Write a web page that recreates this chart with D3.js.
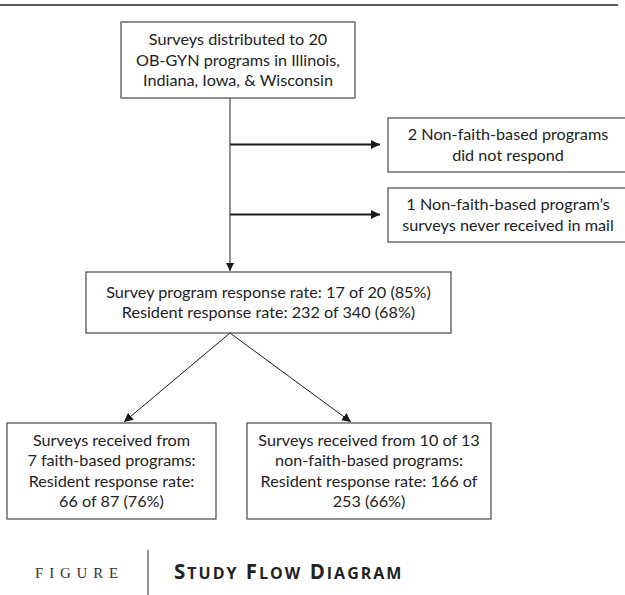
<!DOCTYPE html>
<html lang="en">
  <head>
    <meta charset="utf-8">
    <title>Study Flow Diagram</title>
    <script src="https://d3js.org/d3.v7.min.js"></script>
    <style>
      body { margin: 0; background: #fff; }
      .box text { font-family: Lato, "Open Sans", sans-serif; font-size: 16.2px; fill: #222; }
    </style>
  </head>
  <body>
    <script>
      // text of each box, one entry per line
      var startLines = ["Surveys distributed to 20", "OB-GYN programs in Illinois,", "Indiana, Iowa, & Wisconsin"];
      var excludedLines = [
        ["2 Non-faith-based programs", "did not respond"],
        ["1 Non-faith-based program\u2019s", "surveys never received in mail"]
      ];
      var responseLines = ["Survey program response rate: 17 of 20 (85%)", "Resident response rate: 232 of 340 (68%)"];
      var groupLines = [
        ["Surveys received from", "7 faith-based programs:", "Resident response rate:", "66 of 87 (76%)"],
        ["Surveys received from 10 of 13", "non-faith-based programs:", "Resident response rate: 166 of", "253 (66%)"]
      ];
      var captionLabel = "FIGURE";
      var captionWords = ["Study", "Flow", "Diagram"];

      var w = 625, h = 595;
      var lineH = 20.5;

      // layout: box rectangles [x0, y0, x1, y1]
      var layout = {
        start: [121, 22, 355, 98],
        excluded: [[388, 118, 628, 172], [388, 188, 628, 242]],
        response: [86, 272, 451, 333],
        groups: [[7, 423, 216, 519], [247, 423, 491, 519]],
        spineX: 230,
        diagTips: [124, 351]
      };

      var svg = d3.select("body").append("svg")
          .attr("width", w)
          .attr("height", h);

      var defs = svg.append("defs");
      function marker(id, mw, mh) {
        defs.append("marker")
            .attr("id", id)
            .attr("markerUnits", "userSpaceOnUse")
            .attr("viewBox", "0 0 10 10")
            .attr("refX", 10).attr("refY", 5)
            .attr("markerWidth", mw).attr("markerHeight", mh)
            .attr("orient", "auto")
          .append("path")
            .attr("d", "M0,0L10,5L0,10Z")
            .attr("fill", "#1a1a1a");
      }
      marker("head", 9, 9);
      marker("headSmall", 8, 8);

      // top rule
      svg.append("line")
          .attr("x1", 0).attr("x2", 618)
          .attr("y1", 5).attr("y2", 5)
          .attr("stroke", "#222").attr("stroke-width", 1.5);

      function drawBox(rect, lines) {
        var g = svg.append("g").attr("class", "box");
        g.append("rect")
            .attr("x", rect[0]).attr("y", rect[1])
            .attr("width", rect[2] - rect[0]).attr("height", rect[3] - rect[1])
            .attr("fill", "#fff")
            .attr("stroke", "#555").attr("stroke-width", 1.3);
        var cx = (rect[0] + rect[2]) / 2;
        var cy = (rect[1] + rect[3]) / 2;
        var first = cy - (lines.length - 1) * lineH / 2;
        g.selectAll("text")
          .data(lines)
          .enter().append("text")
            .attr("x", cx)
            .attr("y", function(d, i) { return first + i * lineH; })
            .attr("dy", "0.35em")
            .attr("text-anchor", "middle")
            .text(function(d) { return d; });
      }

      function arrow(x1, y1, x2, y2, sw, col, head) {
        svg.append("line")
            .attr("x1", x1).attr("y1", y1)
            .attr("x2", x2).attr("y2", y2)
            .attr("stroke", col)
            .attr("stroke-width", sw)
            .attr("marker-end", "url(#" + head + ")");
      }

      var s = layout.start, r = layout.response;
      arrow(layout.spineX, s[3], layout.spineX, r[1] - 1, 1.3, "#555", "headSmall");
      layout.excluded.forEach(function(b) {
        var y = Math.round((b[1] + b[3]) / 2) - 0.5;
        arrow(layout.spineX, y, b[0] - 8, y, 2, "#1a1a1a", "head");
      });
      layout.groups.forEach(function(b, i) {
        arrow(layout.spineX, r[3], layout.diagTips[i], b[1] - 1, 1, "#1a1a1a", "head");
      });

      drawBox(s, startLines);
      layout.excluded.forEach(function(b, i) { drawBox(b, excludedLines[i]); });
      drawBox(r, responseLines);
      layout.groups.forEach(function(b, i) { drawBox(b, groupLines[i]); });

      // caption
      svg.append("text")
          .attr("x", 35).attr("y", 573).attr("dy", "0.35em")
          .attr("font-family", "'Liberation Serif', serif")
          .attr("font-size", 15)
          .attr("letter-spacing", 5.8)
          .attr("fill", "#333")
          .text(captionLabel);
      svg.append("line")
          .attr("x1", 148).attr("x2", 148)
          .attr("y1", 550).attr("y2", 595)
          .attr("stroke", "#222").attr("stroke-width", 1);

      // small-caps title: first letter large, rest as smaller capitals
      var title = svg.append("text")
          .attr("x", 174).attr("y", 573).attr("dy", "0.36em")
          .attr("font-family", "'Open Sans', Lato, sans-serif")
          .attr("font-weight", "bold")
          .attr("letter-spacing", 2)
          .attr("fill", "#222");
      captionWords.forEach(function(word, i) {
        title.append("tspan")
            .attr("font-size", 20.5)
            .text((i > 0 ? " " : "") + word.charAt(0).toUpperCase());
        title.append("tspan")
            .attr("font-size", 16)
            .text(word.slice(1).toUpperCase());
      });
    </script>
  </body>
</html>
